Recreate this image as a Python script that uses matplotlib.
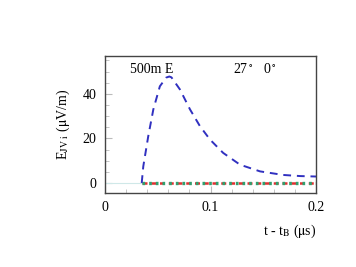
import matplotlib
matplotlib.use("Agg")
import matplotlib.pyplot as plt
from matplotlib.ticker import MultipleLocator

t_main = [0.0348, 0.0363, 0.041, 0.0458, 0.052, 0.058, 0.061, 0.063, 0.071, 0.0806, 0.090, 0.0995, 0.112, 0.128, 0.147, 0.169, 0.185, 0.2]
e_main = [0.0, 7.5, 21.0, 33.0, 43.4, 47.3, 47.8, 47.4, 42.0, 33.0, 25.5, 19.5, 13.5, 8.2, 5.2, 3.6, 3.1, 2.9]
t_zero = [0.0348, 0.2]
e_zero = [0.0, 0.0]
t_pre = [0.0, 0.0348]
e_pre = [0.0, 0.0]

plt.rcParams['font.family'] = ['Liberation Serif', 'DejaVu Serif']
plt.rcParams['mathtext.fontset'] = 'stix'
fig = plt.figure(figsize=(3.56, 2.67), dpi=100)
ax = fig.add_axes([105/356, 1-193/267, 211/356, 137/267])

ax.plot(t_pre, e_pre, color='#cfe8e8', lw=0.8)
ax.plot(t_zero, e_zero, color='#e03030', lw=1.8, ls=(0, (2, 1.5)))
ax.plot(t_zero, e_zero, color='#30a070', lw=2.4, ls=(0, (0.8, 1.2)))
ax.plot(t_main, e_main, color='#3030c0', lw=1.4, ls=(0, (4, 3)))

ax.set_xlim(0, 0.2)
ax.set_ylim(-4.5, 57)
ax.xaxis.set_major_locator(MultipleLocator(0.1))
ax.xaxis.set_minor_locator(MultipleLocator(0.02))
ax.yaxis.set_major_locator(MultipleLocator(20))
ax.yaxis.set_minor_locator(MultipleLocator(5))
ax.set_xticks([0, 0.1, 0.2])
ax.set_xticklabels(['0', '0.1', '0.2'])
ax.tick_params(which='both', direction='in', top=False, right=False, colors='#bbbbbb', labelcolor='black', labelsize=10)
ax.tick_params(which='major', length=5, pad=6)
ax.tick_params(which='minor', length=3)
for s in ax.spines.values():
    s.set_color('#444444')
    s.set_linewidth(1.0)

ax.text(0.118, 0.905, '500m E', transform=ax.transAxes, fontsize=10, va='center')
ax.text(0.607, 0.905, r'27$\,^{\circ}$   0$\,^{\circ}$', transform=ax.transAxes, fontsize=10, va='center')
ax.set_ylabel(r'E$_{\mathrm{JV\ i}}$ ($\mathrm{\mu}$V/m)', fontsize=10, labelpad=8)
ax.set_xlabel(r't - t$_{\mathrm{B}}$ ($\mathrm{\mu}$s)', fontsize=10, loc='right', labelpad=6)

fig.savefig('out.png', dpi=100)
